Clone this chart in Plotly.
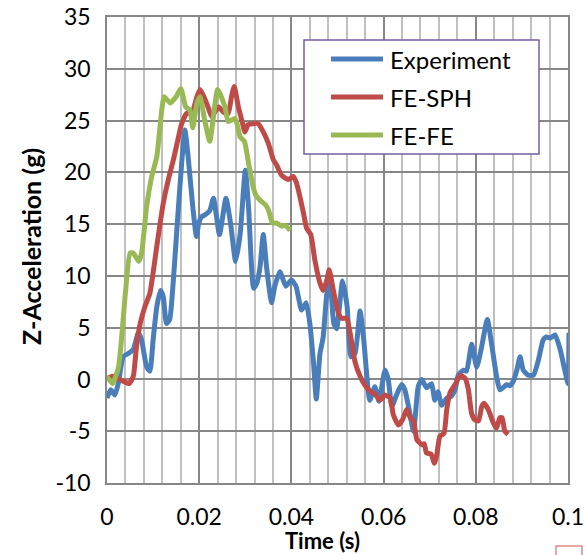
import plotly.graph_objects as go

# ---------------- data ----------------
series_names = ["Experiment", "FE-SPH", "FE-FE"]
series_colors = ["#4A7EBB", "#BE4B48", "#98B954"]

exp_t = [0, 0.0008, 0.0017, 0.0025, 0.0035, 0.0046, 0.0057, 0.0068, 0.0075, 0.0086,
         0.0093, 0.0100, 0.0108, 0.0116, 0.0122, 0.0129, 0.0136, 0.0144, 0.0153, 0.0162,
         0.0169, 0.0176, 0.0186, 0.0194, 0.0199, 0.0205, 0.0213, 0.0223, 0.0231, 0.0244,
         0.0258, 0.0268, 0.0279, 0.0289, 0.0300, 0.0307, 0.0318, 0.0325, 0.0332, 0.0339,
         0.0346, 0.0357, 0.0364, 0.0375, 0.0388, 0.0400, 0.0410, 0.0422, 0.0432, 0.0440,
         0.0448, 0.0454, 0.0462, 0.0469, 0.0477, 0.0484, 0.0492, 0.0498, 0.0511, 0.0521,
         0.0529, 0.0538, 0.0549, 0.0557, 0.0570, 0.0581, 0.0590, 0.0603, 0.0610, 0.0618,
         0.0628, 0.0639, 0.0646, 0.0654, 0.0665, 0.0675, 0.0683, 0.0693, 0.0704, 0.0711,
         0.0718, 0.0726, 0.0737, 0.0747, 0.0755, 0.0762, 0.0773, 0.0780, 0.0791, 0.0802,
         0.0812, 0.0825, 0.0834, 0.0845, 0.0852, 0.0859, 0.0867, 0.0874, 0.0881, 0.0889,
         0.0896, 0.0903, 0.0914, 0.0925, 0.0936, 0.0946, 0.0953, 0.0962, 0.0972, 0.0983,
         0.0993, 0.1000, 0.1002]
exp_g = [-1.8, -1.0, -1.5, -0.3, 2.2, 2.5, 2.9, 4.5, 3.8, 1.2,
         0.8, 3.8, 7.0, 8.6, 8.0, 5.4, 5.8, 9.6, 15.4, 20.9,
         24.1, 21.5, 16.7, 13.8, 15.1, 15.7, 15.9, 16.3, 17.5, 14.0,
         17.5, 15.1, 11.4, 14.1, 20.2, 16.7, 8.8, 9.3, 10.9, 14.0,
         10.9, 7.4, 9.0, 10.4, 9.0, 9.6, 9.0, 6.7, 7.4, 5.4,
         1.6, -1.9, 2.5, 4.1, 8.3, 9.3, 5.4, 4.9, 9.5, 7.0,
         2.2, 2.5, 6.6, 3.8, -2.0, -0.7, -2.1, 0.9, 0.0, -2.6,
         -1.5, -0.5, -1.0, -2.6, -5.0, -0.7, 0.0, -0.8, -0.4, -2.0,
         -1.2, -2.5, -1.8, -1.6, -1.0, 0.4, 0.9, 0.8, 3.4, 1.2,
         3.0, 5.8, 3.5, 0.3, -1.0, -0.8, -0.5, -0.6, -0.2, 0.9,
         2.2, 0.9, 0.4, 0.4, 1.9, 3.8, 4.1, 4.0, 4.3, 2.9,
         0.9, -0.4, 4.5]

sph_t = [0, 0.0013, 0.0028, 0.0048, 0.0057, 0.0064, 0.0072, 0.0082, 0.0093, 0.0100,
         0.0111, 0.0122, 0.0133, 0.0144, 0.0155, 0.0162, 0.0173, 0.0184, 0.0195, 0.0202,
         0.0213, 0.0220, 0.0227, 0.0242, 0.0253, 0.0263, 0.0270, 0.0276, 0.0285, 0.0292,
         0.0299, 0.0306, 0.0317, 0.0328, 0.0339, 0.0350, 0.0361, 0.0368, 0.0379, 0.0393,
         0.0404, 0.0410, 0.0415, 0.0426, 0.0433, 0.0442, 0.0451, 0.0462, 0.0469, 0.0477,
         0.0482, 0.0491, 0.0502, 0.0509, 0.0520, 0.0531, 0.0538, 0.0549, 0.0560, 0.0570,
         0.0581, 0.0592, 0.0603, 0.0614, 0.0621, 0.0632, 0.0641, 0.0650, 0.0658, 0.0665,
         0.0672, 0.0683, 0.0688, 0.0693, 0.0703, 0.0710, 0.0715, 0.0722, 0.0731, 0.0737,
         0.0744, 0.0755, 0.0766, 0.0777, 0.0784, 0.0791, 0.0798, 0.0806, 0.0813, 0.0818,
         0.0827, 0.0838, 0.0845, 0.0852, 0.0857, 0.0863, 0.0870]
sph_g = [0.1, 0.3, 0.0, -0.4, 0.3, 3.2, 5.4, 7.0, 8.3, 10.3,
         13.8, 17.0, 19.3, 21.2, 23.4, 24.7, 25.7, 25.7, 27.3, 28.0,
         27.0, 26.2, 25.4, 26.3, 25.8, 25.7, 27.3, 28.3, 26.3, 25.1,
         23.9, 24.6, 24.7, 24.7, 23.9, 22.8, 21.2, 20.7, 19.7, 19.3,
         19.6, 19.1, 18.3, 16.1, 14.6, 14.0, 11.5, 9.3, 8.6, 9.6,
         10.6, 8.6, 6.4, 5.9, 5.9, 3.5, 1.7, 0.3, -0.6, -1.1,
         -1.4, -2.0, -1.5, -1.8, -3.4, -4.4, -3.9, -2.9, -3.7, -4.0,
         -5.8, -6.3, -6.2, -7.1, -7.2, -8.1, -7.4, -5.5, -5.2, -2.9,
         -1.3, -0.5, 0.4, 0.1, -1.0, -3.3, -3.9, -4.0, -2.6, -2.3,
         -2.9, -4.2, -4.7, -3.7, -3.7, -5.0, -5.3]

fe_t = [0, 0.0012, 0.0025, 0.0040, 0.0050, 0.0057, 0.0069, 0.0075, 0.0086, 0.0097,
        0.0108, 0.0115, 0.0124, 0.0137, 0.0150, 0.0160, 0.0171, 0.0180, 0.0186, 0.0195,
        0.0202, 0.0212, 0.0223, 0.0240, 0.0256, 0.0263, 0.0278, 0.0289, 0.0298, 0.0307,
        0.0317, 0.0323, 0.0332, 0.0343, 0.0350, 0.0359, 0.0368, 0.0379, 0.0386, 0.0397]
fe_g = [0.3, -0.4, 1.2, 8.4, 12.2, 12.2, 11.4, 12.2, 16.7, 19.6,
        21.5, 24.4, 27.3, 26.7, 27.3, 28.1, 26.3, 26.0, 24.3, 26.7,
        27.3, 25.0, 23.0, 28.0, 26.3, 24.9, 25.2, 23.4, 23.0, 20.9,
        18.6, 17.8, 17.3, 16.9, 16.4, 15.1, 15.1, 14.8, 14.9, 14.4]

x_tickvals = [0, 0.02, 0.04, 0.06, 0.08, 0.1]
x_ticktext = ["0", "0.02", "0.04", "0.06", "0.08", "0.1"]
y_tickvals = [-10, -5, 0, 5, 10, 15, 20, 25, 30, 35]
y_ticktext = ["-10", "-5", "0", "5", "10", "15", "20", "25", "30", "35"]

# ---------------- figure ----------------
FONT = "Lato, sans-serif"
fig = go.Figure()
for name, color, t, g in zip(series_names, series_colors,
                             [exp_t, sph_t, fe_t], [exp_g, sph_g, fe_g]):
    fig.add_trace(go.Scatter(x=t, y=g, mode="lines", name=name,
                             line=dict(color=color, width=5, shape="spline", smoothing=0.5),
                             showlegend=False))

major = "#878787"
minor = "#C0C0C0"
fig.update_xaxes(range=[0, 0.1], tickvals=x_tickvals, ticktext=x_ticktext,
                 showgrid=True, gridcolor=major, gridwidth=1.5,
                 minor=dict(dtick=0.004, tick0=0, showgrid=True, gridcolor=minor, gridwidth=1.5),
                 showline=True, linecolor=major, linewidth=1.5, mirror=True,
                 zeroline=False, ticks="", ticklabelstandoff=13, automargin=False,
                 ticklabeloverflow="allow",
                 tickfont=dict(family=FONT, size=23, color="#000"))
fig.update_yaxes(range=[-10, 35], tickvals=y_tickvals, ticktext=y_ticktext,
                 showgrid=True, gridcolor=major, gridwidth=1.5,
                 showline=True, linecolor=major, linewidth=1.5, mirror=True,
                 zeroline=False, ticks="", ticklabelstandoff=10, automargin=False,
                 ticklabeloverflow="allow",
                 tickfont=dict(family=FONT, size=23, color="#000"))

# plot area in screen pixels: x 107..568, y 17..483
def px_x(p):
    return (p - 107) / 461

def px_y(p):
    return (483 - p) / 466

# axis titles
fig.add_annotation(text="<b>Time (s)</b>", xref="paper", yref="paper",
                   x=px_x(322), y=px_y(540), showarrow=False,
                   xanchor="center", yanchor="middle",
                   font=dict(family=FONT, size=22, color="#000"))
fig.add_annotation(text="<b>Z-Acceleration (g)</b>", xref="paper", yref="paper",
                   x=px_x(31), y=px_y(247), showarrow=False, textangle=-90,
                   xanchor="center", yanchor="middle",
                   font=dict(family=FONT, size=25, color="#000"))

# custom legend
fig.add_shape(type="rect", xref="paper", yref="paper", layer="above",
              x0=px_x(304), x1=px_x(539), y0=px_y(154), y1=px_y(40),
              fillcolor="white", line=dict(color="#7A5F9E", width=1.5))
for i, (name, color) in enumerate(zip(series_names, series_colors)):
    yy = px_y(59 + 38 * i)
    fig.add_shape(type="line", xref="paper", yref="paper", layer="above",
                  x0=px_x(331), x1=px_x(383), y0=yy, y1=yy,
                  line=dict(color=color, width=5))
    fig.add_annotation(text=name, xref="paper", yref="paper", x=px_x(388), y=yy,
                       xanchor="left", yanchor="middle", showarrow=False,
                       font=dict(family=FONT, size=24, color="#000"))

# small cut-off box at the bottom right
fig.add_shape(type="rect", xref="paper", yref="paper", layer="above",
              x0=px_x(556), x1=px_x(582), y0=px_y(562), y1=px_y(546),
              fillcolor="white", line=dict(color="#E08A8A", width=1.5))

fig.update_layout(width=586, height=555, margin=dict(l=107, r=18, t=17, b=72, autoexpand=False),
                  plot_bgcolor="white", paper_bgcolor="white",
                  font=dict(family=FONT, color="#000"), showlegend=False)

# remove the page's default 8px body margin so the figure fills the window
fig.write_html("out.html", config={"displayModeBar": False},
               post_script="document.body.style.margin='0px';")
